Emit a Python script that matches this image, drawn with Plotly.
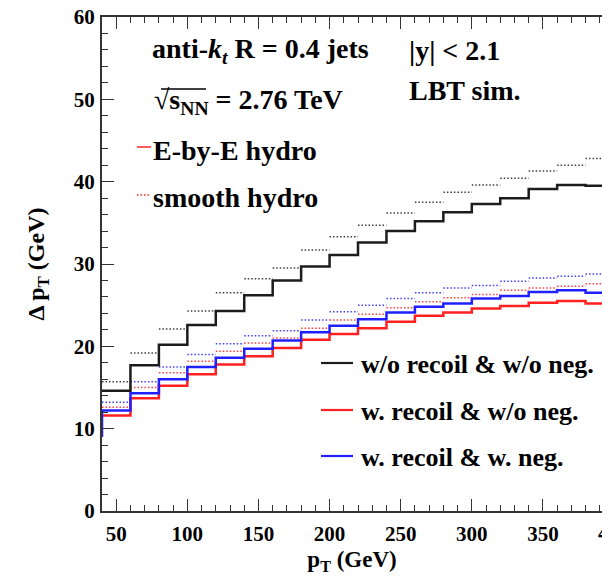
import plotly.graph_objects as go

# ---------------- data ----------------
bin_edges = [40, 60, 80, 100, 120, 140, 160, 180, 200, 220, 240, 260, 280, 300, 320, 340, 360, 380, 400]

# E-by-E hydro (solid)
ebe_norecoil = [14.6, 17.7, 20.2, 22.6, 24.3, 26.2, 28.0, 29.7, 31.1, 32.6, 34.0, 35.2, 36.3, 37.3, 38.0, 39.1, 39.6, 39.5]
ebe_recoil = [11.6, 13.7, 15.2, 16.6, 17.8, 18.8, 19.8, 20.8, 21.5, 22.2, 23.0, 23.7, 24.1, 24.6, 24.9, 25.3, 25.5, 25.2]
ebe_recoil_neg = [12.2, 14.3, 16.0, 17.5, 18.6, 19.7, 20.7, 21.7, 22.5, 23.3, 24.1, 24.8, 25.2, 25.8, 26.1, 26.6, 26.8, 26.5]
ebe_recoil_neg_start = 9.0

# smooth hydro (dotted)
sm_norecoil = [15.7, 19.2, 22.1, 24.3, 26.5, 28.2, 29.5, 31.7, 33.3, 34.7, 36.2, 37.5, 38.7, 39.6, 40.4, 41.3, 42.0, 42.8]
sm_recoil = [12.6, 15.0, 16.8, 18.2, 19.4, 20.4, 21.0, 22.2, 23.2, 23.9, 24.7, 25.4, 25.9, 26.3, 26.8, 27.1, 27.3, 27.6]
sm_recoil_neg = [13.2, 15.7, 17.5, 19.0, 20.3, 21.3, 21.9, 23.2, 24.2, 25.0, 25.8, 26.5, 27.1, 27.4, 27.9, 28.3, 28.5, 28.8]

series_names = ["w/o recoil & w/o neg.", "w. recoil & w/o neg.", "w. recoil & w. neg."]
x_ticks = [50, 100, 150, 200, 250, 300, 350]
y_ticks = [0, 10, 20, 30, 40, 50, 60]

BLACK = "#1c1c1c"
RED = "#ff2020"
BLUE = "#2020ff"
FONT = "Liberation Serif"

W, H = 602, 579
ML, MR, MT, MB = 102, 0, 17, 68
PW, PH = W - ML - MR, H - MT - MB
X0 = 40
X1 = X0 + PW / 1.4223


def px(xp):
    return (xp - ML) / PW


def py(yp):
    return (H - MB - yp) / PH


def step_xy(vals):
    return bin_edges[:], list(vals) + [vals[-1]]


def seg_xy(vals):
    xs, ys = [], []
    for i, v in enumerate(vals):
        xs += [bin_edges[i], bin_edges[i + 1], None]
        ys += [v, v, None]
    return xs, ys


fig = go.Figure()

for vals, col in [(sm_norecoil, BLACK), (sm_recoil, RED), (sm_recoil_neg, BLUE)]:
    xs, ys = seg_xy(vals)
    fig.add_trace(go.Scatter(x=xs, y=ys, mode="lines", showlegend=False,
                             line=dict(color=col, width=1.5, dash="1.5px,2px"), opacity=0.85))

for vals, col in [(ebe_norecoil, BLACK), (ebe_recoil, RED)]:
    xs, ys = step_xy(vals)
    fig.add_trace(go.Scatter(x=xs, y=ys, mode="lines", line_shape="hv", showlegend=False,
                             line=dict(color=col, width=2.5)))

xs, ys = step_xy(ebe_recoil_neg)
fig.add_trace(go.Scatter(x=[bin_edges[0]] + xs, y=[ebe_recoil_neg_start] + ys, mode="lines",
                         line_shape="hv", showlegend=False, line=dict(color=BLUE, width=2.5)))

annots = []
shapes = []


def text(xp, yp, s, size=28, anchor="left"):
    annots.append(dict(x=px(xp), y=py(yp), xref="paper", yref="paper", text=s, showarrow=False,
                       xanchor=anchor, yanchor="middle",
                       font=dict(family=FONT, size=size, color="black", weight="bold")))


text(150, 50, "anti-<i>k</i><sub><i>t</i></sub> R = 0.4 jets")
text(407, 50, "|y| < 2.1")
text(152, 101, "√s<sub>NN</sub> = 2.76 TeV")
# overline of the square root
shapes.append(dict(type="line", xref="paper", yref="paper", x0=px(161), x1=px(206),
                   y0=py(89), y1=py(89), line=dict(color="black", width=1.3)))
text(407, 90, "LBT sim.")
text(151, 150, "E-by-E hydro", size=28)
text(151, 198, "smooth hydro", size=28)
shapes.append(dict(type="line", xref="paper", yref="paper", x0=px(137), x1=px(151),
                   y0=py(147), y1=py(147), line=dict(color=RED, width=1.5)))
shapes.append(dict(type="line", xref="paper", yref="paper", x0=px(137), x1=px(151),
                   y0=py(195), y1=py(195), line=dict(color=RED, width=1.5, dash="1.5px,2px")))

for (yl, name, col) in zip([363, 410, 456], series_names, [BLACK, RED, BLUE]):
    shapes.append(dict(type="line", xref="paper", yref="paper", x0=px(321), x1=px(353),
                       y0=py(yl), y1=py(yl), line=dict(color=col, width=2.2)))
    text(359, yl + 1, name, size=26)

# partially visible "400" tick label at right edge
annots.append(dict(x=(400 - X0) / (X1 - X0), y=0, xref="paper", yref="paper", text="400",
                   showarrow=False, xanchor="center", yanchor="top", yshift=-8,
                   font=dict(family=FONT, size=21, color="black", weight="bold")))

axis_common = dict(showgrid=False, zeroline=False, ticks="inside", ticklen=12, tickwidth=1.3,
                   tickcolor="#333", showline=True, linecolor="#333", linewidth=2,
                   tickfont=dict(family=FONT, size=21, color="black", weight="bold"))

fig.update_layout(
    width=W, height=H,
    margin=dict(l=ML, r=MR, t=MT, b=MB),
    plot_bgcolor="white", paper_bgcolor="white",
    annotations=annots, shapes=shapes,
    xaxis=dict(range=[X0, X1], tickvals=x_ticks, mirror="ticks", ticklabelstandoff=3,
               minor=dict(dtick=10, tick0=0, ticks="inside", ticklen=6, tickcolor="#333"),
               title=dict(text="p<sub>T</sub> (GeV)", standoff=6,
                          font=dict(family=FONT, size=23, color="black", weight="bold")),
               **axis_common),
    yaxis=dict(range=[0, 60], tickvals=y_ticks, mirror=False, ticklabelstandoff=1,
               minor=dict(dtick=2, tick0=0, ticks="inside", ticklen=6, tickcolor="#333"),
               title=dict(text="Δ p<sub>T</sub> (GeV)", standoff=22,
                          font=dict(family=FONT, size=24, color="black", weight="bold")),
               **axis_common),
)

fig.write_html("out.html")
